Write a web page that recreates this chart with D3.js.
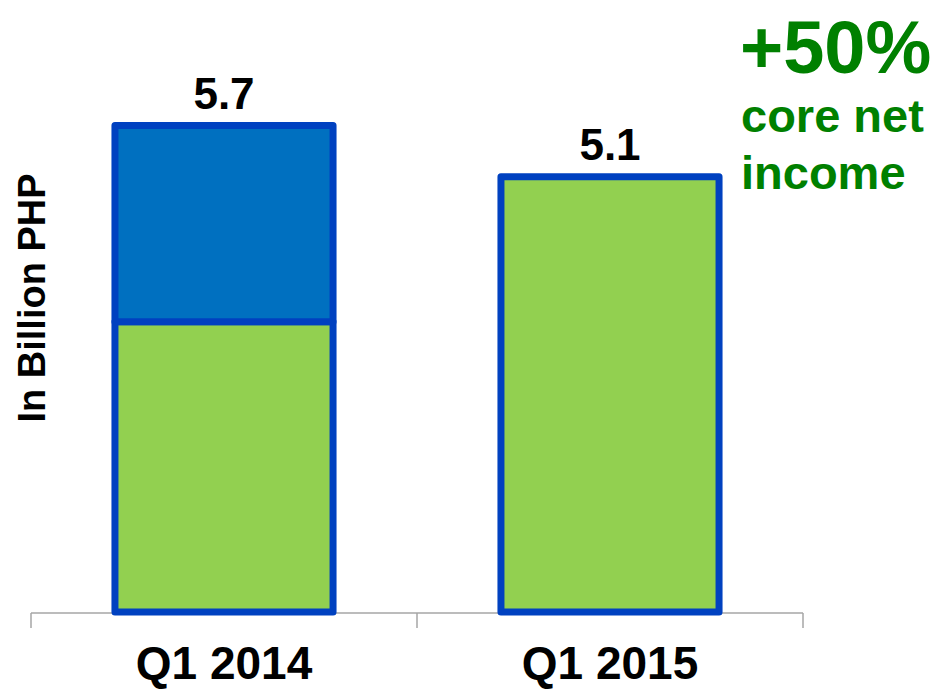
<!DOCTYPE html>
<html>
<head>
<meta charset="utf-8">
<script src="https://cdn.jsdelivr.net/npm/d3@7"></script>
<style>
  body { margin: 0; background: #fff; }
  text { font-family: "Liberation Sans", Arial, sans-serif; font-weight: bold; }
</style>
</head>
<body>
<div class="visHolder"></div>
<script>
var categories = ["Q1 2014", "Q1 2015"];
var coreIncome = [3.4, 5.1];
var otherIncome = [2.3, 0];
var totalLabels = ["5.7", "5.1"];

var width = 936,
    height = 689;

var svg = d3
    .select(".visHolder")
    .append("svg")
    .attr("width", width)
    .attr("height", height);

var rows = categories.map(function (c, i) {
    return { cat: c, core: coreIncome[i], other: otherIncome[i] };
});

var stacked = d3.stack().keys(["core", "other"])(rows);

var xScale = d3
    .scaleBand()
    .domain(categories)
    .range([31, 803])
    .paddingInner(0.435)
    .paddingOuter(0.2175);

var yScale = d3.scaleLinear().domain([0, 6]).range([612, 100]);

// axis with ticks between categories
var xAxis = d3
    .axisBottom(xScale)
    .tickSize(0)
    .tickFormat("");

var axisG = svg
    .append("g")
    .attr("transform", "translate(0, 613)")
    .call(xAxis);
axisG.select(".domain").remove();

axisG
    .append("line")
    .attr("x1", 31)
    .attr("x2", 803)
    .attr("stroke", "#a6a6a6")
    .attr("stroke-width", 1.5);

var step = xScale.step();
var tickXs = [31, 31 + step, 31 + 2 * step];
axisG
    .selectAll(".sep")
    .data(tickXs)
    .enter()
    .append("line")
    .attr("class", "sep")
    .attr("x1", function (d) { return d; })
    .attr("x2", function (d) { return d; })
    .attr("y1", 0)
    .attr("y2", 15)
    .attr("stroke", "#a6a6a6")
    .attr("stroke-width", 1.5);

axisG
    .selectAll(".cat")
    .data(categories)
    .enter()
    .append("text")
    .attr("class", "cat")
    .attr("x", function (d) { return xScale(d) + xScale.bandwidth() / 2; })
    .attr("y", 66)
    .attr("text-anchor", "middle")
    .attr("font-size", 46)
    .attr("fill", "#000")
    .text(function (d) { return d; });

var colors = { core: "#92d050", other: "#0070c0" };

svg
    .selectAll("g.layer")
    .data(stacked)
    .enter()
    .append("g")
    .attr("class", "layer")
    .attr("fill", function (d) { return colors[d.key]; })
    .selectAll("rect")
    .data(function (d) { return d.filter(function (s) { return s[1] - s[0] > 0; }); })
    .enter()
    .append("rect")
    .attr("x", function (d) { return xScale(d.data.cat); })
    .attr("y", function (d) { return yScale(d[1]); })
    .attr("width", xScale.bandwidth())
    .attr("height", function (d) { return yScale(d[0]) - yScale(d[1]); })
    .attr("stroke", "#0041c0")
    .attr("stroke-width", 7)
    .attr("stroke-linejoin", "round");

// total labels
svg
    .selectAll(".total")
    .data(rows)
    .enter()
    .append("text")
    .attr("class", "total")
    .attr("x", function (d) { return xScale(d.cat) + xScale.bandwidth() / 2; })
    .attr("y", function (d) { return yScale(d.core + d.other) - 17; })
    .attr("text-anchor", "middle")
    .attr("font-size", 44)
    .attr("fill", "#000")
    .text(function (d, i) { return totalLabels[i]; });

// y title
svg
    .append("text")
    .attr("transform", "translate(45, 298) rotate(-90)")
    .attr("text-anchor", "middle")
    .attr("font-size", 38)
    .attr("fill", "#000")
    .text("In Billion PHP");

// callout
var callout = svg.append("g").attr("fill", "#008000");
callout.append("text").attr("x", 740).attr("y", 73).attr("font-size", 74).text("+50%");
callout.append("text").attr("x", 741).attr("y", 132).attr("font-size", 47).text("core net");
callout.append("text").attr("x", 741).attr("y", 189).attr("font-size", 47).text("income");
</script>
</body>
</html>
